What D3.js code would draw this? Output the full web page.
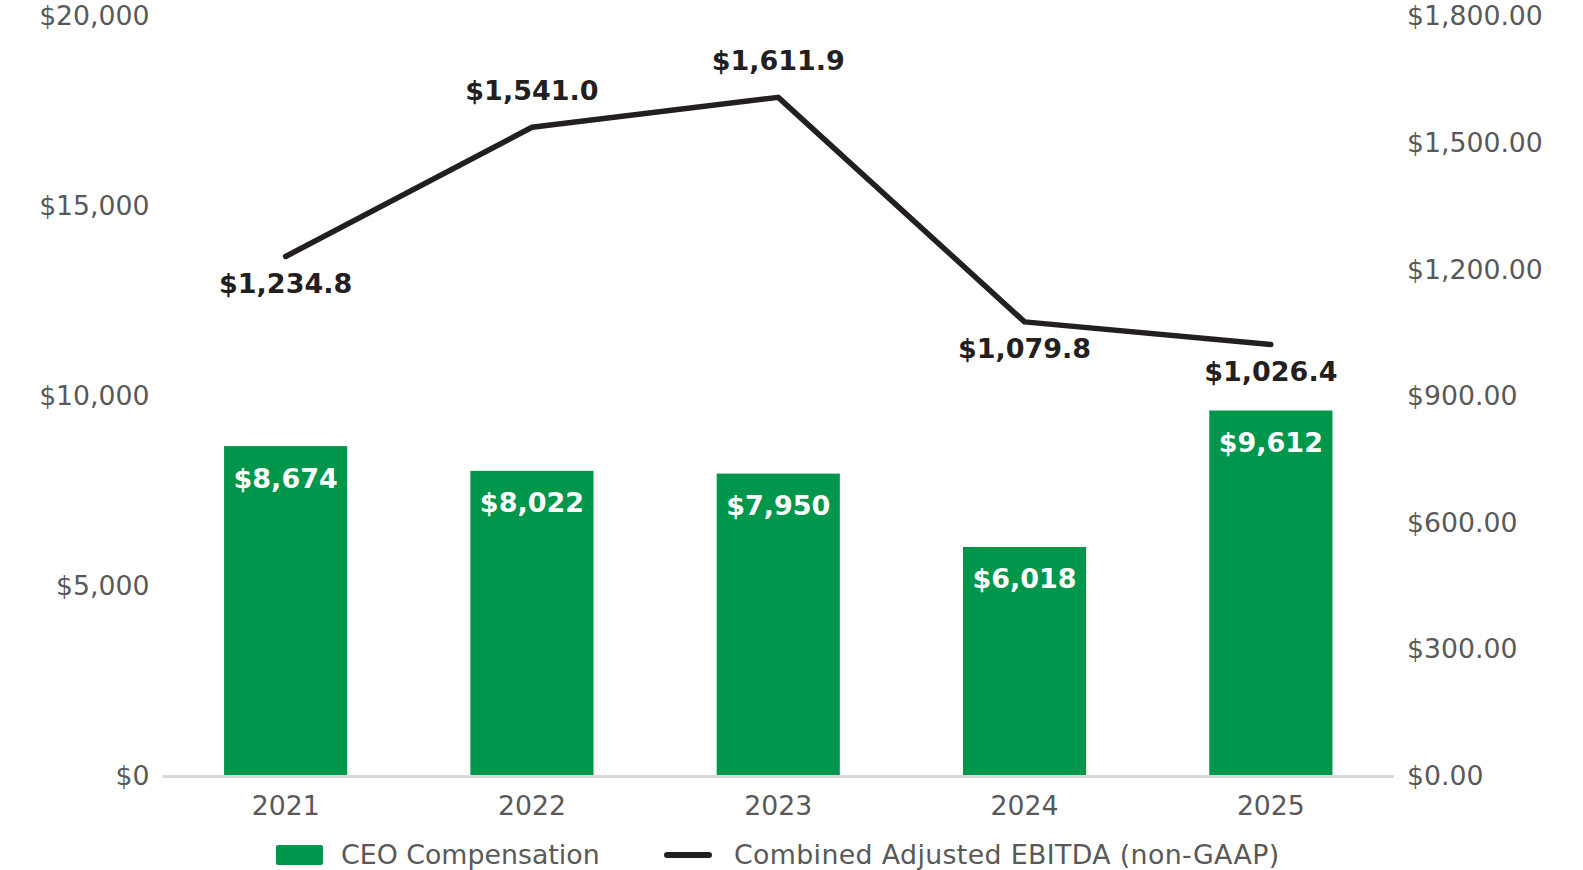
<!DOCTYPE html>
<html>
<head>
	<meta charset="utf-8">
	<title>CEO Compensation vs Combined Adjusted EBITDA</title>
	<style>
		html, body {
			margin: 0;
			padding: 0;
			overflow: hidden;
			background-color: white;
			font-family: "DejaVu Sans", Verdana, sans-serif;
		}
		svg { display: block; }
		.tick-label { fill: #595959; font-size: 26.7px; }
		.legend-label { fill: #595959; font-size: 26.8px; }
	</style>
</head>
<body>
	<svg id="chart"></svg>
	<script src="https://d3js.org/d3.v7.min.js"></script>
	<script>
		// chart data
		const years = ['2021', '2022', '2023', '2024', '2025'];
		const ceoComp = [8674, 8022, 7950, 6018, 9612];
		const ebitda = [1234.8, 1541.0, 1611.9, 1079.8, 1026.4];
		const leftTicks = [0, 5000, 10000, 15000, 20000];
		const rightTicks = [0, 300, 600, 900, 1200, 1500, 1800];
		const legendNames = ['CEO Compensation', 'Combined Adjusted EBITDA (non-GAAP)'];

		const width = 1583;
		const height = 870;
		const margin = { top: 16, right: 189, bottom: 94.5, left: 162.5 };

		const svg = d3.select('#chart')
			.attr('width', width)
			.attr('height', height);

		const x = d3.scaleBand()
			.domain(years)
			.range([margin.left, width - margin.right])
			.paddingInner(0.5)
			.paddingOuter(0.25);

		const yLeft = d3.scaleLinear()
			.domain([0, 20000])
			.range([height - margin.bottom, margin.top]);

		const yRight = d3.scaleLinear()
			.domain([0, 1800])
			.range([height - margin.bottom, margin.top]);

		const green = '#00964b';
		const dark = '#231f20';
		const cx = i => x(years[i]) + x.bandwidth() / 2;

		// left axis labels
		const leftFmt = d => '$' + d3.format(',')(d);
		svg.append('g')
			.selectAll('text')
			.data(leftTicks)
			.join('text')
			.attr('class', 'tick-label')
			.attr('x', margin.left - 13)
			.attr('y', d => yLeft(d))
			.attr('dy', '0.35em')
			.attr('text-anchor', 'end')
			.text(leftFmt);

		// right axis labels
		const rightFmt = d => '$' + d3.format(',.2f')(d);
		svg.append('g')
			.selectAll('text')
			.data(rightTicks)
			.join('text')
			.attr('class', 'tick-label')
			.attr('x', width - margin.right + 13)
			.attr('y', d => yRight(d))
			.attr('dy', '0.35em')
			.attr('text-anchor', 'start')
			.text(rightFmt);

		// bars
		svg.append('g')
			.selectAll('rect')
			.data(ceoComp)
			.join('rect')
			.attr('x', (d, i) => x(years[i]))
			.attr('y', d => yLeft(d))
			.attr('width', x.bandwidth())
			.attr('height', d => yLeft(0) - yLeft(d))
			.attr('fill', green);

		// bar labels
		svg.append('g')
			.selectAll('text')
			.data(ceoComp)
			.join('text')
			.attr('x', (d, i) => cx(i))
			.attr('y', d => yLeft(d) + 32)
			.attr('dy', '0.35em')
			.attr('text-anchor', 'middle')
			.attr('fill', 'white')
			.attr('font-weight', 'bold')
			.attr('font-size', '27px')
			.text(d => '$' + d3.format(',')(d));

		// baseline
		svg.append('line')
			.attr('x1', margin.left)
			.attr('x2', width - margin.right)
			.attr('y1', yLeft(0) + 1)
			.attr('y2', yLeft(0) + 1)
			.attr('stroke', '#d9d9d9')
			.attr('stroke-width', 3);

		// x axis labels
		svg.append('g')
			.selectAll('text')
			.data(years)
			.join('text')
			.attr('class', 'tick-label')
			.attr('x', (d, i) => cx(i))
			.attr('y', yLeft(0) + 30)
			.attr('dy', '0.35em')
			.attr('text-anchor', 'middle')
			.text(d => d);

		// EBITDA line
		const line = d3.line()
			.x((d, i) => cx(i))
			.y(d => yRight(d) + 2);

		svg.append('path')
			.datum(ebitda)
			.attr('d', line)
			.attr('fill', 'none')
			.attr('stroke', dark)
			.attr('stroke-width', 5.5)
			.attr('stroke-linecap', 'round')
			.attr('stroke-linejoin', 'round');

		// line labels: above when rising, below otherwise
		svg.append('g')
			.selectAll('text')
			.data(ebitda)
			.join('text')
			.attr('x', (d, i) => cx(i))
			.attr('y', (d, i) => {
				const up = i > 0 && d > ebitda[i - 1];
				return yRight(d) + (up ? -35 : 29);
			})
			.attr('dy', '0.35em')
			.attr('text-anchor', 'middle')
			.attr('fill', dark)
			.attr('font-weight', 'bold')
			.attr('font-size', '27px')
			.text(d => '$' + d3.format(',.1f')(d));

		// legend
		const legendY = 855;
		const legend = svg.append('g');

		legend.append('rect')
			.attr('x', 276)
			.attr('y', legendY - 10)
			.attr('width', 47)
			.attr('height', 20)
			.attr('rx', 2)
			.attr('fill', green);

		legend.append('text')
			.attr('class', 'legend-label')
			.attr('x', 341)
			.attr('y', legendY)
			.attr('dy', '0.35em')
			.text(legendNames[0]);

		legend.append('line')
			.attr('x1', 667)
			.attr('x2', 709)
			.attr('y1', legendY)
			.attr('y2', legendY)
			.attr('stroke', dark)
			.attr('stroke-width', 6)
			.attr('stroke-linecap', 'round');

		legend.append('text')
			.attr('class', 'legend-label')
			.attr('x', 734)
			.attr('y', legendY)
			.attr('dy', '0.35em')
			.attr('letter-spacing', '0.35px')
			.text(legendNames[1]);
	</script>
</body>
</html>
